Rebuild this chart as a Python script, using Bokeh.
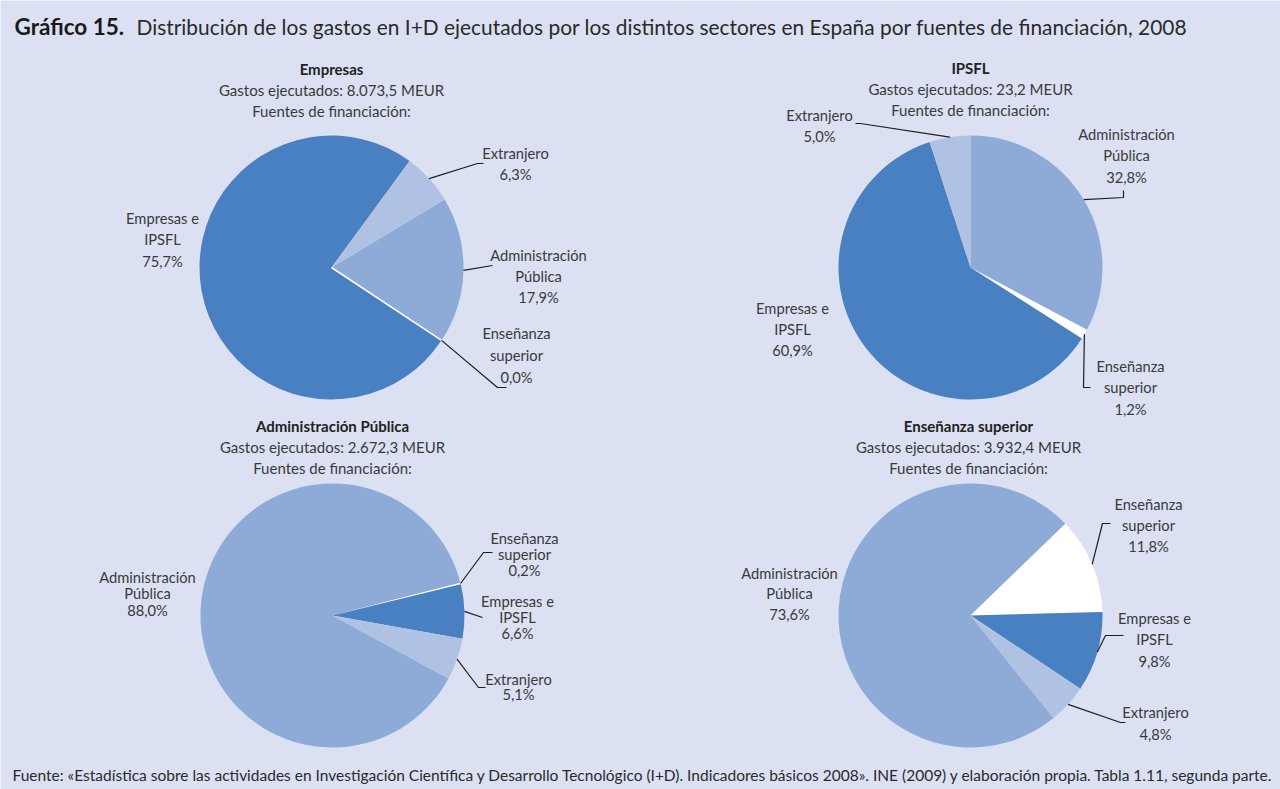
import math
from bokeh.plotting import figure
from bokeh.models import ColumnDataSource, Range1d
from bokeh.core.properties import value
from bokeh.embed import file_html
from bokeh.resources import INLINE

# ---------------- data ----------------
sectors = ["Empresas", "IPSFL", "Administración Pública", "Enseñanza superior"]
gastos = ["8.073,5", "23,2", "2.672,3", "3.932,4"]
sources = ["Administración Pública", "Enseñanza superior", "Empresas e IPSFL", "Extranjero"]
source_lines = [["Administración", "Pública"], ["Enseñanza", "superior"], ["Empresas e", "IPSFL"], ["Extranjero"]]
pct_empresas = [17.9, 0.0, 75.7, 6.3]
pct_ipsfl = [32.8, 1.2, 60.9, 5.0]
pct_admin = [88.0, 0.2, 6.6, 5.1]
pct_ens = [73.6, 11.8, 9.8, 4.8]
all_pcts = [pct_empresas, pct_ipsfl, pct_admin, pct_ens]

title_bold = "Gráfico 15."
title_rest = "Distribución de los gastos en I+D ejecutados por los distintos sectores en España por fuentes de financiación, 2008"
footer = ("Fuente: «Estadística sobre las actividades en Investigación Científica y Desarrollo Tecnológico (I+D). "
          "Indicadores básicos 2008». INE (2009) y elaboración propia. Tabla 1.11, segunda parte.")

# ---------------- style / layout ----------------
BG = "#dbe1f2"
COLORS = ["#8eaad7", "#ffffff", "#4980c1", "#b0c2e3"]
TXT = "#3a3a3a"
FONT = "Lato"
W, H = 1280, 789
R = 132

# per pie: centre (screen px), first-slice angle (deg), subtitle centre x / y, labels
pies = [
    dict(cx=331, cy=267, start=31, sx=331, sy=68, labels=[
        (538, 254, 21, [(492, 265)]),
        (516, 332, 22, [(497, 387), (506, 387)]),
        (162, 217, 21.5, None),
        (515, 152, 21, [(477, 163), (483, 163)]),
    ]),
    dict(cx=970, cy=267, start=90, sx=970, sy=67, labels=[
        (1126, 133, 21.5, [(1123, 197), (1123, 190)]),
        (1130, 365, 21.5, [(1083, 387), (1090, 387)]),
        (792, 307, 21, None),
        (819, 114, 21, [(860, 123), (855, 123)]),
    ]),
    dict(cx=332, cy=615, start=-28.5, sx=332, sy=425, labels=[
        (147, 576, 16.5, None),
        (524, 537, 16, [(483, 552), (492, 552)]),
        (517, 600, 16, [(482, 617)]),
        (518, 678, 15.5, [(478, 687), (485, 687)]),
    ]),
    dict(cx=970, cy=615, start=-51, sx=968, sy=425, labels=[
        (789, 572, 20.5, None),
        (1148, 503, 21, [(1102, 523), (1110, 523)]),
        (1154, 617, 21.5, [(1105, 635), (1123, 635)]),
        (1155, 711, 22, [(1120, 722), (1125, 722)]),
    ]),
]


def Y(sy):
    return H - sy


p = figure(width=W, height=H, output_backend="svg", toolbar_location=None,
           x_range=Range1d(0, W), y_range=Range1d(0, H),
           x_axis_type=None, y_axis_type=None, min_border=0)
p.grid.visible = False
p.background_fill_color = BG
p.border_fill_color = BG
p.outline_line_color = None


def fmt(v):
    return ("%.1f" % v).replace(".", ",") + "%"


for k, (pie, pcts) in enumerate(zip(pies, all_pcts)):
    cx, cy = pie["cx"], Y(pie["cy"])
    tot = sum(pcts)
    a0 = math.radians(pie["start"])
    starts, ends, cols, xs_, ys_ = [], [], [], [], []
    mids = []
    zero_angles = []
    cum = 0.0
    for i, v in enumerate(pcts):
        s = a0 - 2 * math.pi * cum / tot
        cum += v
        e = a0 - 2 * math.pi * cum / tot
        mids.append((s + e) / 2)
        if v > 0:
            starts.append(s); ends.append(e); cols.append(COLORS[i])
            xs_.append(cx); ys_.append(cy)
        else:
            zero_angles.append(s)
    src = ColumnDataSource(dict(x=xs_, y=ys_, s=starts, e=ends, c=cols))
    p.wedge(x="x", y="y", radius=R, start_angle="s", end_angle="e", direction="clock",
            fill_color="c", line_color=None, source=src)
    for za in zero_angles:
        p.segment(x0=[cx], y0=[cy], x1=[cx + R * math.cos(za)], y1=[cy + R * math.sin(za)],
                  line_color="white", line_width=1.5)

    # subtitle block
    sub = [sectors[k], "Gastos ejecutados: %s MEUR" % gastos[k], "Fuentes de financiación:"]
    for j, t in enumerate(sub):
        p.text(x=[pie["sx"]], y=[Y(pie["sy"] + j * 21.3)], text=[t], text_align="center",
               text_baseline="middle", text_font=value(FONT), text_font_size="15px",
               text_color="#222222" if j == 0 else TXT,
               text_font_style="bold" if j == 0 else "normal")

    # slice labels and leaders
    for i, (lx, ly, lh, elbow) in enumerate(pie["labels"]):
        lines = source_lines[i] + [fmt(pcts[i])]
        p.text(x=[lx] * len(lines), y=[Y(ly + j * lh) for j in range(len(lines))], text=lines,
               text_align="center", text_baseline="middle", text_font=value(FONT),
               text_font_size="14.7px", text_color=TXT)
        if elbow:
            m = mids[i]
            px_ = [cx + R * math.cos(m)] + [ex for ex, ey in elbow]
            py_ = [cy + R * math.sin(m)] + [Y(ey) for ex, ey in elbow]
            p.line(px_, py_, line_color="#1e1e1e", line_width=1.2)

# title
p.text(x=[14], y=[Y(26)], text=[title_bold], text_align="left", text_baseline="middle",
       text_font=value(FONT), text_font_size="22.5px", text_font_style="bold", text_color="#1a1a1a")
p.text(x=[136], y=[Y(26)], text=[title_rest], text_align="left", text_baseline="middle",
       text_font=value(FONT), text_font_size="20.9px", text_color="#2a2a2a")
# footer
p.text(x=[12], y=[Y(774)], text=[footer], text_align="left", text_baseline="middle",
       text_font=value(FONT), text_font_size="15.5px", text_color="#2a2a2a")

open("out.html", "w").write(file_html(p, INLINE))
